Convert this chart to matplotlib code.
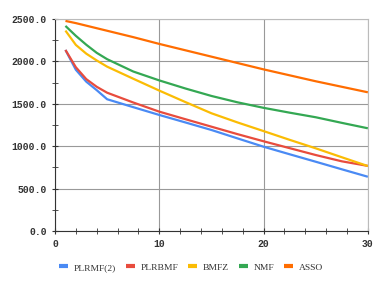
import numpy as np
import matplotlib.pyplot as plt
from matplotlib.ticker import MultipleLocator, FormatStrFormatter

x = [1, 2, 3, 4, 5, 7.5, 10, 12.5, 15, 17.5, 20, 22.5, 25, 27.5, 30]
plrmf2 = [2134, 1900, 1760, 1660, 1553, 1460, 1368, 1280, 1191, 1092, 994, 905, 817, 728, 640]
plrbmf = [2134, 1930, 1790, 1700, 1630, 1515, 1407, 1318, 1230, 1142, 1058, 977, 896, 822, 768]
bmfz = [2362, 2193, 2090, 2010, 1937, 1795, 1655, 1520, 1388, 1280, 1178, 1075, 975, 870, 766]
nmf = [2417, 2300, 2195, 2100, 2025, 1880, 1775, 1680, 1592, 1517, 1452, 1395, 1341, 1275, 1211]
asso = [2476, 2450, 2420, 2390, 2360, 2285, 2205, 2130, 2055, 1980, 1905, 1835, 1765, 1700, 1635]

names = ["PLRMF(2)", "PLRBMF", "BMFZ", "NMF", "ASSO"]
series = [plrmf2, plrbmf, bmfz, nmf, asso]
colors = ["#4a8af4", "#e84c3d", "#fbbc04", "#34a853", "#ff6d01"]

plt.rcParams['font.family'] = ['Liberation Mono', 'DejaVu Sans Mono']

fig = plt.figure(figsize=(3.82, 2.86), dpi=100)
ax = fig.add_axes([0.144, 0.192, 0.819, 0.742])

for ys, name, col in zip(series, names, colors):
    ax.plot(x, ys, color=col, lw=1.6, label=name, solid_capstyle='butt',
            solid_joinstyle='round')

ax.set_xlim(0, 30)
ax.set_ylim(0, 2500)
ax.xaxis.set_major_locator(MultipleLocator(10))
ax.xaxis.set_minor_locator(MultipleLocator(2))
ax.yaxis.set_major_locator(MultipleLocator(500))
ax.yaxis.set_minor_locator(MultipleLocator(250))
ax.yaxis.set_major_formatter(FormatStrFormatter('%.1f'))
ax.grid(True, which='major', color='#999999', lw=0.8)
ax.tick_params(which='both', direction='inout', labelsize=7, color='#333333')
ax.tick_params(which='major', length=5)
ax.tick_params(which='minor', length=4)
for lbl in ax.get_xticklabels() + ax.get_yticklabels():
    lbl.set_fontweight('bold')
    lbl.set_color('#333333')
for s in ['top', 'right']:
    ax.spines[s].set_color('#bbbbbb')
for s in ['left', 'bottom']:
    ax.spines[s].set_color('#333333')

leg = fig.legend(loc='lower center', bbox_to_anchor=(0.5, 0.02), ncol=5,
                 frameon=False, handlelength=0.9,
                 columnspacing=1.1, handletextpad=0.6,
                 prop={'family': 'Liberation Serif', 'size': 6.8})
for line in leg.get_lines():
    line.set_linewidth(3)
for t in leg.get_texts():
    t.set_color('#333333')

fig.savefig("out.png", dpi=100)
